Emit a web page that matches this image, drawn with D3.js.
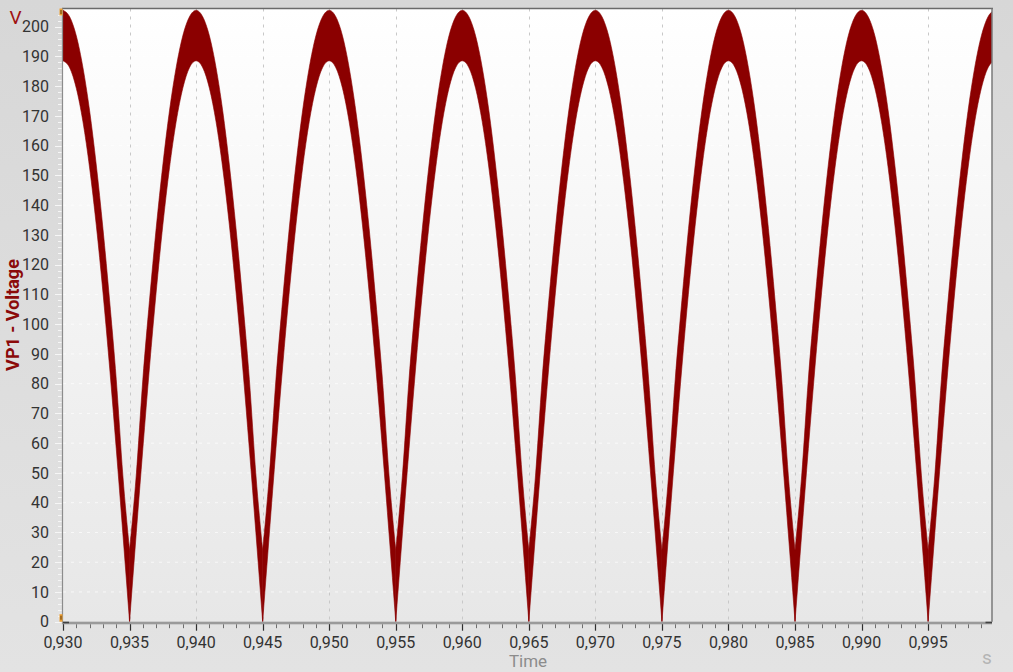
<!DOCTYPE html>
<html><head><meta charset="utf-8">
<script src="https://cdn.jsdelivr.net/npm/d3@7"></script>
<style>html,body{margin:0;padding:0;overflow:hidden;background:#dadada;}</style>
</head><body><svg id="c" width="1013" height="672"></svg>
<script>
// ---- data ----
const sampleTimes = [
 0.9300,0.9305,0.9310,0.9315,0.9320,0.9325,0.9330,0.9335,0.9340,0.9345,0.9350,0.9355,0.9360,0.9365,0.9370,0.9375,0.9380,0.9385,0.9390,0.9395,
 0.9400,0.9405,0.9410,0.9415,0.9420,0.9425,0.9430,0.9435,0.9440,0.9445,0.9450,0.9455,0.9460,0.9465,0.9470,0.9475,0.9480,0.9485,0.9490,0.9495,
 0.9500,0.9505,0.9510,0.9515,0.9520,0.9525,0.9530,0.9535,0.9540,0.9545,0.9550,0.9555,0.9560,0.9565,0.9570,0.9575,0.9580,0.9585,0.9590,0.9595,
 0.9600,0.9605,0.9610,0.9615,0.9620,0.9625,0.9630,0.9635,0.9640,0.9645,0.9650,0.9655,0.9660,0.9665,0.9670,0.9675,0.9680,0.9685,0.9690,0.9695,
 0.9700,0.9705,0.9710,0.9715,0.9720,0.9725,0.9730,0.9735,0.9740,0.9745,0.9750,0.9755,0.9760,0.9765,0.9770,0.9775,0.9780,0.9785,0.9790,0.9795,
 0.9800,0.9805,0.9810,0.9815,0.9820,0.9825,0.9830,0.9835,0.9840,0.9845,0.9850,0.9855,0.9860,0.9865,0.9870,0.9875,0.9880,0.9885,0.9890,0.9895,
 0.9900,0.9905,0.9910,0.9915,0.9920,0.9925,0.9930,0.9935,0.9940,0.9945,0.9950,0.9955,0.9960,0.9965,0.9970,0.9975,0.9980,0.9985,0.9990,0.9995,
 1.0000];
// upper edge of the ripple band (V)
const upperEnvelope = [
 205.5,203.3,196.9,186.2,171.7,153.5,132.2,108.0,81.5,49.0,24.0,49.0,81.5,108.0,132.2,153.5,171.7,186.2,196.9,203.3,
 205.5,203.3,196.9,186.2,171.7,153.5,132.2,108.0,81.5,49.0,24.0,49.0,81.5,108.0,132.2,153.5,171.7,186.2,196.9,203.3,
 205.5,203.3,196.9,186.2,171.7,153.5,132.2,108.0,81.5,49.0,24.0,49.0,81.5,108.0,132.2,153.5,171.7,186.2,196.9,203.3,
 205.5,203.3,196.9,186.2,171.7,153.5,132.2,108.0,81.5,49.0,24.0,49.0,81.5,108.0,132.2,153.5,171.7,186.2,196.9,203.3,
 205.5,203.3,196.9,186.2,171.7,153.5,132.2,108.0,81.5,49.0,24.0,49.0,81.5,108.0,132.2,153.5,171.7,186.2,196.9,203.3,
 205.5,203.3,196.9,186.2,171.7,153.5,132.2,108.0,81.5,49.0,24.0,49.0,81.5,108.0,132.2,153.5,171.7,186.2,196.9,203.3,
 205.5,203.3,196.9,186.2,171.7,153.5,132.2,108.0,81.5,49.0,24.0,49.0,81.5,108.0,132.2,153.5,171.7,186.2,196.9,203.3,
 205.5];
// lower edge of the ripple band (V)
const lowerEnvelope = [
 188.5,186.2,179.3,168.0,152.5,133.3,110.8,85.6,58.2,29.5,0,29.5,58.2,85.6,110.8,133.3,152.5,168.0,179.3,186.2,
 188.5,186.2,179.3,168.0,152.5,133.3,110.8,85.6,58.2,29.5,0,29.5,58.2,85.6,110.8,133.3,152.5,168.0,179.3,186.2,
 188.5,186.2,179.3,168.0,152.5,133.3,110.8,85.6,58.2,29.5,0,29.5,58.2,85.6,110.8,133.3,152.5,168.0,179.3,186.2,
 188.5,186.2,179.3,168.0,152.5,133.3,110.8,85.6,58.2,29.5,0,29.5,58.2,85.6,110.8,133.3,152.5,168.0,179.3,186.2,
 188.5,186.2,179.3,168.0,152.5,133.3,110.8,85.6,58.2,29.5,0,29.5,58.2,85.6,110.8,133.3,152.5,168.0,179.3,186.2,
 188.5,186.2,179.3,168.0,152.5,133.3,110.8,85.6,58.2,29.5,0,29.5,58.2,85.6,110.8,133.3,152.5,168.0,179.3,186.2,
 188.5,186.2,179.3,168.0,152.5,133.3,110.8,85.6,58.2,29.5,0,29.5,58.2,85.6,110.8,133.3,152.5,168.0,179.3,186.2,
 188.5];
const xTickValues = [0.930,0.935,0.940,0.945,0.950,0.955,0.960,0.965,0.970,0.975,0.980,0.985,0.990,0.995];
const yTickValues = [0,10,20,30,40,50,60,70,80,90,100,110,120,130,140,150,160,170,180,190,200];
const xDomain = [0.930, 0.9998];
const yDomain = [0, 206.1];

// ---- layout ----
const FONT = "Roboto, 'Noto Sans', sans-serif";
const L = 63, R = 992, T = 8.5, B = 621.7;
const svg = d3.select("#c");
const defs = svg.append("defs");
const pg = defs.append("linearGradient").attr("id","pageBg").attr("x1",0).attr("y1",0).attr("x2",0).attr("y2",1);
pg.append("stop").attr("offset","0%").attr("stop-color","#d7d7d7");
pg.append("stop").attr("offset","100%").attr("stop-color","#e3e3e3");
const bg = defs.append("linearGradient").attr("id","plotBg").attr("x1",0).attr("y1",0).attr("x2",0).attr("y2",1);
bg.append("stop").attr("offset","0%").attr("stop-color","#ffffff");
bg.append("stop").attr("offset","100%").attr("stop-color","#e7e7e7");
defs.append("clipPath").attr("id","clip").append("rect").attr("x",L).attr("y",T).attr("width",R-L).attr("height",B-T);

svg.append("rect").attr("width",1013).attr("height",672).attr("fill","url(#pageBg)");
svg.append("rect").attr("x",L).attr("y",T).attr("width",R-L).attr("height",B-T).attr("fill","url(#plotBg)");

const x = d3.scaleLinear().domain(xDomain).range([L, R]);
const y = d3.scaleLinear().domain(yDomain).range([B, T]);

// grid
const grid = svg.append("g");
grid.selectAll("line.hg").data(yTickValues.filter(v=>v>0)).join("line")
  .attr("x1",L).attr("x2",R).attr("y1",d=>y(d)).attr("y2",d=>y(d))
  .attr("stroke","#ffffff").attr("stroke-opacity",0.7).attr("stroke-dasharray","3,5");
grid.selectAll("line.vg").data(xTickValues.filter(v=>v>0.930)).join("line")
  .attr("x1",d=>Math.round(x(d))+0.5).attr("x2",d=>Math.round(x(d))+0.5).attr("y1",T).attr("y2",B)
  .attr("stroke","#c8c8c8").attr("stroke-dasharray","3,5");

// waveform band, one arch per half cycle (split at cusps)
const idx = d3.range(sampleTimes.length);
const cusps = idx.filter(i => lowerEnvelope[i] === 0);
const bounds = [0, ...cusps, sampleTimes.length-1];
const area = d3.area()
  .x(i => x(sampleTimes[i]))
  .y0(i => y(lowerEnvelope[i]))
  .y1(i => y(upperEnvelope[i]))
  .curve(d3.curveMonotoneX);
const wave = svg.append("g").attr("clip-path","url(#clip)");
for (let k = 0; k < bounds.length-1; k++) {
  wave.append("path").datum(d3.range(bounds[k], bounds[k+1]+1))
    .attr("d", area).attr("fill","#8b0000").attr("stroke","#8b0000").attr("stroke-width",0.6);
}

// borders
svg.append("line").attr("x1",L-1).attr("x2",R+1).attr("y1",T).attr("y2",T).attr("stroke","#6a6a6a").attr("stroke-width",1.5);
svg.append("line").attr("x1",R).attr("x2",R).attr("y1",T).attr("y2",B).attr("stroke","#7a7a7a").attr("stroke-width",1.5);
svg.append("line").attr("x1",L-0.5).attr("x2",L-0.5).attr("y1",T).attr("y2",B+2).attr("stroke","#8c8c8c").attr("stroke-width",1.2);

// y axis ticks (light) and labels
const yMinor = d3.range(0, 206, 2);
svg.append("g").selectAll("line").data(yMinor).join("line")
  .attr("x1",d=> d%10===0 ? L-8 : L-5).attr("x2",L-1.5)
  .attr("y1",d=>Math.round(y(d))+0.5).attr("y2",d=>Math.round(y(d))+0.5)
  .attr("stroke","#f6f6f6").attr("stroke-width",1);
svg.append("g").selectAll("text").data(yTickValues).join("text")
  .attr("x",49).attr("y",d=>y(d)).attr("dy","0.35em").attr("text-anchor","end")
  .attr("font-family",FONT).attr("font-size",16).attr("fill","#333")
  .text(d=>d);

// x axis bar, ticks and labels
svg.append("rect").attr("x",L-1).attr("y",B).attr("width",R-L+1).attr("height",2.6).attr("fill","#9a9a9a");
svg.append("rect").attr("x",L).attr("y",B).attr("width",6).attr("height",1.6).attr("fill","#404040");
svg.append("rect").attr("x",R-6.5).attr("y",B).attr("width",6.5).attr("height",1.6).attr("fill","#404040");
const xMinor = d3.range(0, 70).map(i => 0.930 + i*0.001);
svg.append("g").selectAll("line").data(xMinor).join("line")
  .attr("x1",d=>Math.round(x(d))+0.5).attr("x2",d=>Math.round(x(d))+0.5)
  .attr("y1",B+2.6).attr("y2",B+6.5).attr("stroke","#6e6e6e").attr("stroke-width",1);
svg.append("g").selectAll("line").data(xTickValues).join("line")
  .attr("x1",d=>Math.round(x(d))+0.5).attr("x2",d=>Math.round(x(d))+0.5)
  .attr("y1",B+2.6).attr("y2",B+9).attr("stroke","#2e2e2e").attr("stroke-width",1.2);
const fmt = d => d3.format(".3f")(d).replace(".", ",");
svg.append("g").selectAll("text").data(xTickValues).join("text")
  .attr("x",d=>x(d)).attr("y",647.5).attr("text-anchor","middle")
  .attr("font-family",FONT).attr("font-size",16).attr("fill","#333")
  .text(fmt);

// cursor markers
svg.append("rect").attr("x",59.5).attr("y",T).attr("width",3).attr("height",7).attr("fill","#f0a030");
svg.append("rect").attr("x",60.5).attr("y",T+1.5).attr("width",1).attr("height",4).attr("fill","#5a3a10");
svg.append("rect").attr("x",59.5).attr("y",B-7.5).attr("width",3).attr("height",7.5).attr("fill","#f0a030");
svg.append("rect").attr("x",60.5).attr("y",B-6).attr("width",1).attr("height",4).attr("fill","#5a3a10");

// titles
svg.append("text").attr("transform","translate(12,315) rotate(-90)").attr("text-anchor","middle")
  .attr("dominant-baseline","central")
  .attr("font-family",FONT).attr("font-size",18).attr("font-weight","bold")
  .attr("fill","#8b0a0a").text("VP1 - Voltage");
svg.append("text").attr("x",15.5).attr("y",24).attr("text-anchor","middle")
  .attr("font-family",FONT).attr("font-size",19)
  .attr("fill","#a01010").text("V");
svg.append("text").attr("x",528).attr("y",667.4).attr("text-anchor","middle")
  .attr("font-family",FONT).attr("font-size",17)
  .attr("fill","#8c8c8c").text("Time");
svg.append("text").attr("x",987).attr("y",664).attr("text-anchor","middle")
  .attr("font-family",FONT).attr("font-size",19)
  .attr("fill","#b4b4b4").text("s");
</script></body></html>
